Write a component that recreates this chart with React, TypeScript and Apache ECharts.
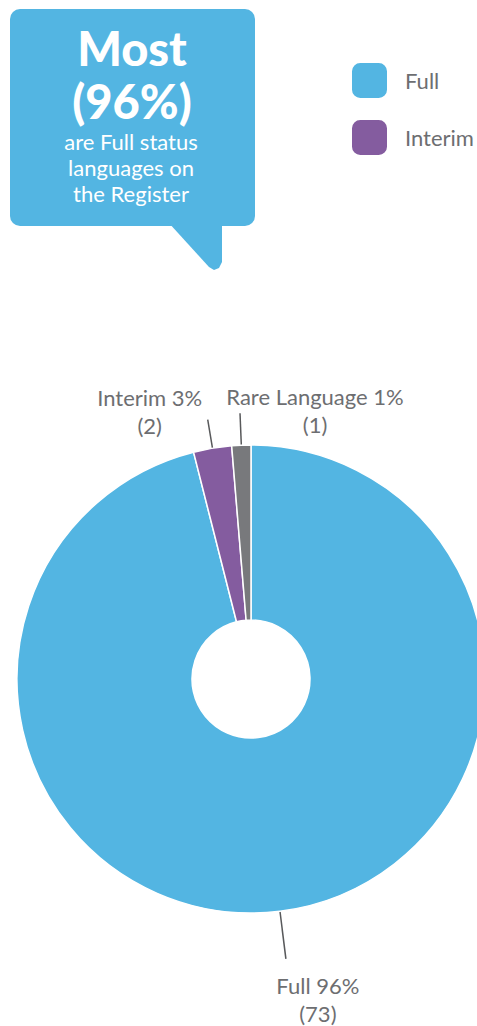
import React, { useEffect, useRef } from "react";
import * as echarts from "echarts";

// ---- data ----
const categories = ["Full", "Interim", "Rare Language"];
const counts = [73, 2, 1];
const legendItems = ["Full", "Interim"];
const calloutHeadline = ["Most", "(96%)"];
const calloutBody = ["are Full status", "languages on", "the Register"];

// ---- styling ----
const COLORS = ["#53b5e2", "#845c9f", "#78797c"];
const LINE_LEN = [48, 29, 32];
const LABEL_SHIFT: [number, number, string][] = [
  [32, 13, "top"],
  [-58, 20, "bottom"],
  [75, 25, "bottom"],
];
const FONT = "Lato, 'Open Sans', sans-serif";
const GREY = "#6d6e71";
const BLUE = "#53b5e2";

export default function App() {
  const ref = useRef<HTMLDivElement>(null);
  useEffect(() => {
    document.body.style.margin = "0";
    const chart = echarts.init(ref.current!, undefined, { renderer: "svg" });
    const headY = [48, 101];
    const bodyY = [141, 167, 193];
    const option: any = {
      animation: false,
      backgroundColor: "#ffffff",
      legend: {
        data: legendItems,
        orient: "vertical",
        left: 350,
        top: 61,
        padding: 0,
        itemWidth: 37,
        itemHeight: 37,
        itemGap: 18,
        icon: "roundRect",
        textStyle: { color: GREY, fontSize: 22, fontFamily: FONT, padding: [0, 0, 0, 12] },
        selectedMode: false,
      },
      graphic: [
        { type: "rect", shape: { x: 10, y: 9, width: 245, height: 217, r: 10 }, style: { fill: BLUE } },
        {
          type: "polygon",
          shape: { points: [[168, 222], [222, 222], [222, 262], [219, 268], [214, 270], [209, 267]] },
          style: { fill: BLUE },
        },
        ...calloutHeadline.map((t, i) => ({
          type: "text",
          x: 132,
          y: headY[i],
          style: { text: t, fill: "#fff", fontSize: 47, fontWeight: 900, fontFamily: FONT, align: "center", verticalAlign: "middle" },
        })),
        ...calloutBody.map((t, i) => ({
          type: "text",
          x: 131,
          y: bodyY[i],
          style: { text: t, fill: "#fff", fontSize: 22, fontFamily: FONT, align: "center", verticalAlign: "middle" },
        })),
      ],
      series: [
        {
          type: "pie",
          center: [251, 679],
          radius: [59, 234],
          startAngle: 90,
          clockwise: true,
          avoidLabelOverlap: false,
          percentPrecision: 0,
          itemStyle: { borderColor: "#ffffff", borderWidth: 1.5 },
          label: {
            show: true,
            position: "outside",
            formatter: "{b} {d}%\n({c})",
            color: GREY,
            fontSize: 22,
            lineHeight: 28,
            fontFamily: FONT,
            align: "center",
          },
          labelLine: { show: true, length: 30, length2: 0, lineStyle: { color: "#58595b", width: 1.5 } },
          labelLayout: (p: any) => {
            const pts = p.labelLinePoints;
            const end = pts[pts.length - 1];
            const s = LABEL_SHIFT[p.dataIndex];
            return {
              x: end[0] + s[0],
              y: end[1] + s[1],
              align: "center",
              verticalAlign: s[2],
              labelLinePoints: pts,
            };
          },
          data: categories.map((name, i) => ({
            name,
            value: counts[i],
            itemStyle: { color: COLORS[i] },
            labelLine: { length: LINE_LEN[i] },
          })),
        },
      ],
    };
    chart.setOption(option);
    return () => chart.dispose();
  }, []);
  return <div ref={ref} style={{ width: 477, height: 1026 }} />;
}
